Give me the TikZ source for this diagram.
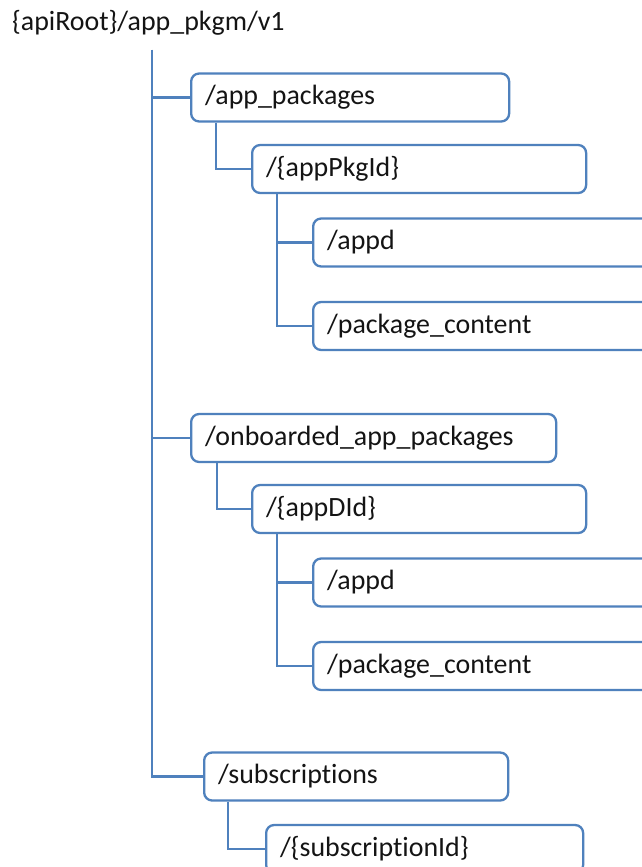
\documentclass[tikz,border=0pt]{standalone}
\usepackage{fontspec}
\setmainfont{Carlito}[Ligatures=CommonOff]
\definecolor{lineblue}{RGB}{79,129,189}
\definecolor{txt}{RGB}{20,20,20}
\begin{document}
\begin{tikzpicture}[x=1pt,y=-1pt,
  box/.style={draw=lineblue, line width=2.3pt, rounded corners=8pt, fill=white,
    anchor=west, minimum height=48pt, inner xsep=14pt, inner ysep=0pt,
    align=left, text=txt, font=\fontsize{27.9}{33}\selectfont},
  conn/.style={draw=lineblue, line width=2.3pt}]
\clip (0,0) rectangle (642,867);
\fill[white] (0,0) rectangle (642,867);
\node[anchor=base west, inner sep=0pt, text=txt, font=\fontsize{27.9}{33}\selectfont] (root) at (12,31) {\{apiRoot\}/app\_pkgm/v1};
\coordinate (t0) at (152,50);
% nodes
\node[box, text width=290pt] (b1) at (190,97.5) {/app\_packages};
\node[box, text width=306pt] (b2) at (251,169) {/\{appPkgId\}};
\node[box, text width=340pt] (b3a) at (312,242.5) {/appd};
\node[box, text width=340pt] (b3b) at (312,326) {/package\_content};
\node[box, text width=337pt] (b4) at (190,438) {/onboarded\_app\_packages};
\node[box, text width=306pt] (b5) at (251,509) {/\{appDId\}};
\node[box, text width=340pt] (b6a) at (312,582.5) {/appd};
\node[box, text width=340pt] (b6b) at (312,666) {/package\_content};
\node[box, text width=276pt] (b7) at (203,776.5) {/subscriptions};
\node[box, text width=289pt] (b8) at (265,849) {/\{subscriptionId\}};
% connectors
\draw[conn] (t0) |- (b1.west);
\draw[conn] (t0) |- (b4.west);
\draw[conn] (t0) |- (b7.west);
\draw[conn] ([xshift=26pt]b1.south west) |- (b2.west);
\draw[conn] ([xshift=26pt]b2.south west) |- (b3a.west);
\draw[conn] ([xshift=26pt]b2.south west) |- (b3b.west);
\draw[conn] ([xshift=27pt]b4.south west) |- (b5.west);
\draw[conn] ([xshift=26pt]b5.south west) |- (b6a.west);
\draw[conn] ([xshift=26pt]b5.south west) |- (b6b.west);
\draw[conn] ([xshift=25pt]b7.south west) |- (b8.west);
\end{tikzpicture}
\end{document}
